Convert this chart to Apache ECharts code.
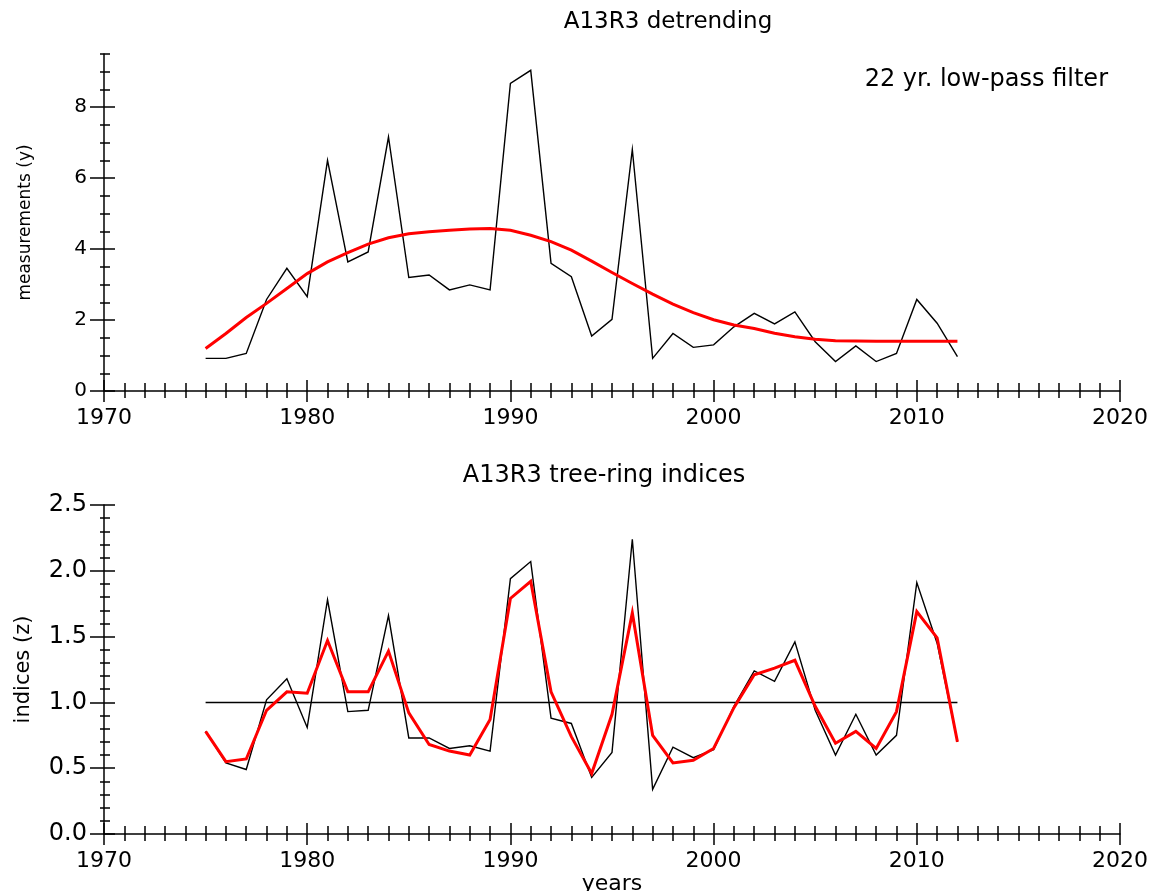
<!DOCTYPE html>
<html>
<head>
<meta charset="utf-8">
<script src="https://cdn.jsdelivr.net/npm/echarts@6/dist/echarts.min.js"></script>
<style>
  html, body { margin: 0; padding: 0; background: #ffffff; }
  #chart { width: 1160px; height: 891px; }
</style>
</head>
<body>
<div id="chart"></div>
<script>
// Ring-width series A13R3, 1975-2012
const years = [1975, 1976, 1977, 1978, 1979, 1980, 1981, 1982, 1983, 1984,
               1985, 1986, 1987, 1988, 1989, 1990, 1991, 1992, 1993, 1994,
               1995, 1996, 1997, 1998, 1999, 2000, 2001, 2002, 2003, 2004,
               2005, 2006, 2007, 2008, 2009, 2010, 2011, 2012];

// raw measurements (y)
const measurements = [0.92, 0.92, 1.06, 2.58, 3.46, 2.66, 6.50, 3.64, 3.92, 7.16,
                      3.20, 3.27, 2.85, 2.99, 2.85, 8.67, 9.04, 3.60, 3.22, 1.55,
                      2.02, 6.81, 0.92, 1.62, 1.23, 1.30, 1.81, 2.19, 1.89, 2.23,
                      1.39, 0.83, 1.27, 0.83, 1.06, 2.58, 1.91, 0.97];

// 22 yr. low-pass filter curve
const lowPass = [1.20, 1.62, 2.07, 2.47, 2.89, 3.31, 3.64, 3.90, 4.14, 4.32,
                 4.43, 4.49, 4.53, 4.57, 4.58, 4.53, 4.39, 4.21, 3.97, 3.66,
                 3.34, 3.03, 2.73, 2.45, 2.21, 2.01, 1.86, 1.76, 1.63, 1.53,
                 1.46, 1.42, 1.41, 1.40, 1.40, 1.40, 1.40, 1.40];

// tree-ring indices (z)
const indices = [0.78, 0.54, 0.49, 1.02, 1.18, 0.81, 1.78, 0.93, 0.94, 1.66,
                 0.73, 0.73, 0.65, 0.67, 0.63, 1.94, 2.07, 0.88, 0.84, 0.43,
                 0.62, 2.24, 0.34, 0.66, 0.58, 0.64, 0.97, 1.24, 1.16, 1.46,
                 0.94, 0.60, 0.91, 0.60, 0.75, 1.91, 1.45, 0.70];

// smoothed indices
const smoothedIndices = [0.78, 0.55, 0.57, 0.94, 1.08, 1.07, 1.47, 1.08, 1.08, 1.39,
                         0.92, 0.68, 0.63, 0.60, 0.87, 1.79, 1.92, 1.08, 0.74, 0.46,
                         0.91, 1.68, 0.75, 0.54, 0.56, 0.65, 0.96, 1.21, 1.26, 1.32,
                         0.97, 0.69, 0.78, 0.65, 0.93, 1.69, 1.49, 0.70];

const meanIndex = 1.0;

// axis ranges and labelled ticks
const yearRange = [1970, 2020];
const measurementRange = [0, 9.5];
const measurementTicks = [0, 2, 4, 6, 8];
const indexRange = [0, 2.5];

const FONT = 'DejaVu Sans';
const INK = '#000000';
const RED = '#ff0000';

const pairs = (xs, ys) => xs.map((x, i) => [x, ys[i]]);

const topRect = { left: 104, top: 54, width: 1016, height: 337 };
const bottomRect = { left: 104, top: 505, width: 1016, height: 329 };

const tickLine = { color: INK, width: 1.5 };

// Each panel uses stacked grids on the same rectangle so ticks can cross the axis line.
const grids = [topRect, topRect, topRect, topRect, bottomRect, bottomRect]
  .map(r => Object.assign({ containLabel: false, outerBoundsMode: 'none' }, r));

function yearAxis(gridIndex, mode, extra) {
  const base = {
    type: 'value', gridIndex,
    min: yearRange[0], max: yearRange[1], interval: 10,
    splitLine: { show: false },
    axisLine: { show: mode === 'main', onZero: false, lineStyle: { color: INK, width: 1.5 } },
    axisTick: { show: mode !== 'none', inside: mode === 'inner', length: 11, lineStyle: tickLine },
    minorTick: { show: mode !== 'none', splitNumber: 10, length: mode === 'inner' ? 8 : 7, lineStyle: tickLine },
    axisLabel: {
      show: mode === 'main', color: INK, fontFamily: FONT, fontSize: 22, margin: 16,
      formatter: v => String(v)
    }
  };
  return Object.assign(base, extra || {});
}

const xAxes = [
  yearAxis(0, 'main'),
  yearAxis(1, 'inner'),
  yearAxis(2, 'none', { show: false }),
  yearAxis(3, 'none', { show: false }),
  yearAxis(4, 'main', {
    name: 'years', nameLocation: 'middle', nameGap: 38,
    nameTextStyle: { color: INK, fontFamily: FONT, fontSize: 22 }
  }),
  yearAxis(5, 'inner')
];

const yAxes = [
  // top panel: short ticks every 0.5, labels at measurementTicks
  {
    type: 'value', gridIndex: 0,
    min: measurementRange[0], max: measurementRange[1], interval: 0.5,
    splitLine: { show: false },
    axisLine: { show: true, onZero: false, lineStyle: { color: INK, width: 1.5 } },
    axisTick: { show: true, length: 4, lineStyle: tickLine },
    axisLabel: {
      color: INK, fontFamily: FONT, fontSize: 20, margin: 17,
      formatter: v => (measurementTicks.indexOf(v) >= 0 ? String(v) : '')
    },
    name: 'measurements (y)', nameLocation: 'middle', nameGap: 70,
    nameTextStyle: { color: INK, fontFamily: FONT, fontSize: 17 }
  },
  {
    type: 'value', gridIndex: 1,
    min: measurementRange[0], max: measurementRange[1], interval: 0.5,
    splitLine: { show: false },
    axisLine: { show: false, onZero: false },
    axisTick: { show: true, inside: true, length: 6, lineStyle: tickLine },
    axisLabel: { show: false }
  },
  // long ticks at the labelled values
  {
    type: 'value', gridIndex: 2,
    min: measurementRange[0], max: measurementRange[1], interval: 0.5,
    splitLine: { show: false },
    axisLine: { show: false, onZero: false },
    axisTick: { show: true, length: 14, customValues: measurementTicks, lineStyle: tickLine },
    axisLabel: { show: false }
  },
  {
    type: 'value', gridIndex: 3,
    min: measurementRange[0], max: measurementRange[1], interval: 0.5,
    splitLine: { show: false },
    axisLine: { show: false, onZero: false },
    axisTick: { show: true, inside: true, length: 11, customValues: measurementTicks, lineStyle: tickLine },
    axisLabel: { show: false }
  },
  // bottom panel
  {
    type: 'value', gridIndex: 4,
    min: indexRange[0], max: indexRange[1], interval: 0.5,
    splitLine: { show: false },
    axisLine: { show: true, onZero: false, lineStyle: { color: INK, width: 1.5 } },
    axisTick: { show: true, length: 14, lineStyle: tickLine },
    minorTick: { show: true, splitNumber: 5, length: 4, lineStyle: tickLine },
    axisLabel: {
      color: INK, fontFamily: FONT, fontSize: 24, margin: 17,
      formatter: v => v.toFixed(1)
    },
    name: 'indices (z)', nameLocation: 'middle', nameGap: 70,
    nameTextStyle: { color: INK, fontFamily: FONT, fontSize: 21 }
  },
  {
    type: 'value', gridIndex: 5,
    min: indexRange[0], max: indexRange[1], interval: 0.5,
    splitLine: { show: false },
    axisLine: { show: false, onZero: false },
    axisTick: { show: true, inside: true, length: 11, lineStyle: tickLine },
    minorTick: { show: true, splitNumber: 5, length: 6, lineStyle: tickLine },
    axisLabel: { show: false }
  }
];

const lineSeries = (data, axis, color, width, z) => ({
  type: 'line', data, xAxisIndex: axis, yAxisIndex: axis,
  symbol: 'none', silent: true, z,
  lineStyle: { color, width, join: 'miter' }
});

const series = [
  lineSeries(pairs(years, measurements), 0, INK, 1.4, 2),
  lineSeries(pairs(years, lowPass), 0, RED, 3, 3),
  lineSeries([[years[0], meanIndex], [years[years.length - 1], meanIndex]], 4, INK, 1.5, 1),
  lineSeries(pairs(years, indices), 4, INK, 1.4, 2),
  lineSeries(pairs(years, smoothedIndices), 4, RED, 3, 3)
];

const textEl = (text, x, y, size, align) => ({
  type: 'text', x, y,
  style: {
    text, fill: INK, align: align || 'center', verticalAlign: 'middle',
    font: size + 'px "' + FONT + '"'
  }
});

const chart = echarts.init(document.getElementById('chart'), null, { renderer: 'canvas' });
chart.setOption({
  animation: false,
  backgroundColor: '#ffffff',
  grid: grids,
  xAxis: xAxes,
  yAxis: yAxes,
  series,
  graphic: [
    textEl('A13R3 detrending', 668, 22, 23),
    textEl('22 yr. low-pass filter', 1108, 80, 24, 'right'),
    textEl('A13R3 tree-ring indices', 604, 476, 24)
  ]
});
</script>
</body>
</html>
